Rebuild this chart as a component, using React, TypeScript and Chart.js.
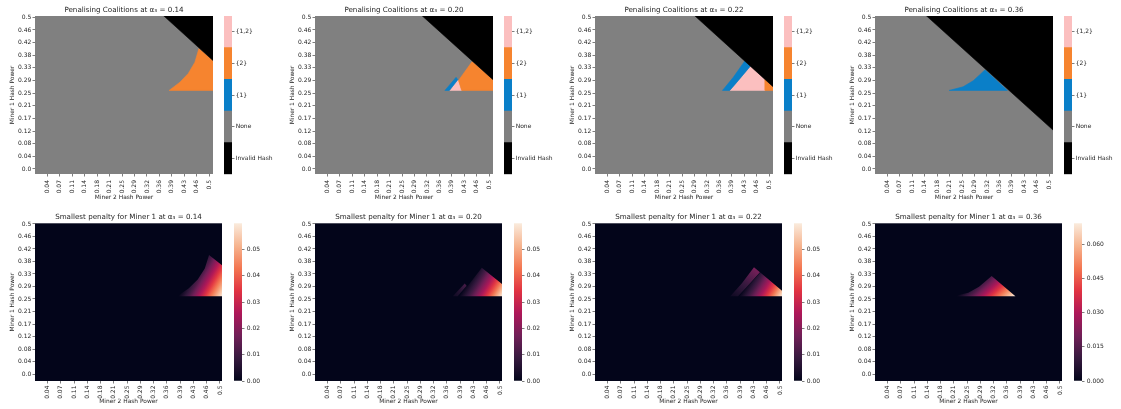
import React, { useEffect, useRef } from 'react';
import { Chart, registerables } from 'chart.js';

Chart.register(...registerables);

type Pt = [number, number];

// ---------------- data ----------------
const alphaLabels = ['0.14', '0.20', '0.22', '0.36'];
const xTickLabels = ['0.04', '0.07', '0.11', '0.14', '0.18', '0.21', '0.25', '0.29', '0.32', '0.36', '0.39', '0.43', '0.46', '0.5'];
const yTickLabels = ['0.0', '0.04', '0.08', '0.12', '0.17', '0.21', '0.25', '0.29', '0.33', '0.38', '0.42', '0.46', '0.5'];
const coalitionLabels = ['Invalid Hash', 'None', '{1}', '{2}', '{1,2}'];

// Penalising coalitions: outlines (Miner 2 hash power, Miner 1 hash power); everything else is "None"
const invalidHash: Pt[][] = [
  [[0.355, 0.52], [0.52, 0.52], [0.52, 0.348]],
  [[0.293, 0.52], [0.52, 0.52], [0.52, 0.285]],
  [[0.272, 0.52], [0.52, 0.52], [0.52, 0.262]],
  [[0.133, 0.52], [0.52, 0.52], [0.52, 0.119]],
];
const coalition1: Pt[][] = [
  [],
  [[0.373, 0.259], [0.405, 0.302], [0.410, 0.294], [0.386, 0.259]],
  [[0.366, 0.259], [0.397, 0.302], [0.430, 0.356], [0.446, 0.339], [0.411, 0.291], [0.387, 0.259]],
  [[0.213, 0.259], [0.253, 0.271], [0.282, 0.291], [0.301, 0.311], [0.316, 0.327], [0.380, 0.259]],
];
const coalition2: Pt[][] = [
  [[0.385, 0.259], [0.416, 0.286], [0.440, 0.315], [0.459, 0.352], [0.4705, 0.397], [0.52, 0.348], [0.52, 0.259]],
  [[0.421, 0.259], [0.412, 0.292], [0.451, 0.354], [0.52, 0.285], [0.52, 0.259]],
  [[0.4876, 0.259], [0.4876, 0.296], [0.52, 0.262], [0.52, 0.259]],
  [],
];
const coalition12: Pt[][] = [
  [],
  [[0.386, 0.259], [0.409, 0.293], [0.412, 0.292], [0.421, 0.259]],
  [[0.387, 0.259], [0.411, 0.291], [0.446, 0.339], [0.4876, 0.296], [0.4876, 0.259]],
  [],
];

// Smallest penalty: shaded regions, each with a gradient axis (from -> to) and penalty values sampled evenly along it
const penaltyOutlines: Pt[][][] = [
  [[[0.385, 0.259], [0.416, 0.286], [0.440, 0.315], [0.459, 0.352], [0.4705, 0.397], [0.52, 0.348], [0.52, 0.259]]],
  [
    [[0.373, 0.259], [0.405, 0.302], [0.410, 0.294], [0.386, 0.259]],
    [[0.387, 0.259], [0.409, 0.293], [0.412, 0.292], [0.451, 0.354], [0.52, 0.285], [0.52, 0.259]],
  ],
  [
    [[0.366, 0.259], [0.397, 0.302], [0.430, 0.356], [0.446, 0.339], [0.411, 0.291], [0.387, 0.259]],
    [[0.389, 0.259], [0.412, 0.291], [0.447, 0.338], [0.52, 0.262], [0.52, 0.259]],
  ],
  [[[0.213, 0.259], [0.253, 0.271], [0.282, 0.291], [0.301, 0.311], [0.316, 0.327], [0.380, 0.259]]],
];
const penaltyFrom: Pt[][] = [
  [[0.388, 0.26]],
  [[0.372, 0.26], [0.39, 0.26]],
  [[0.368, 0.26], [0.39, 0.26]],
  [[0.222, 0.26]],
];
const penaltyTo: Pt[][] = [
  [[0.476, 0.197]],
  [[0.41, 0.30], [0.473, 0.196]],
  [[0.43, 0.355], [0.473, 0.196]],
  [[0.2916, 0.1635]],
];
const penaltyValues: number[][][] = [
  [[0, 0.012, 0.027, 0.043, 0.059]],
  [[0.002, 0.006, 0.012], [0, 0.011, 0.025, 0.041, 0.059]],
  [[0.002, 0.009, 0.018], [0, 0.011, 0.025, 0.041, 0.059]],
  [[0, 0.015, 0.033, 0.051, 0.069]],
];
const penaltyMax = [0.0599, 0.0599, 0.0599, 0.0692];
const penaltyTickLabels = [
  ['0.00', '0.01', '0.02', '0.03', '0.04', '0.05'],
  ['0.00', '0.01', '0.02', '0.03', '0.04', '0.05'],
  ['0.00', '0.01', '0.02', '0.03', '0.04', '0.05'],
  ['0.000', '0.015', '0.030', '0.045', '0.060'],
];

// ---------------- style ----------------
const FONT = "'DejaVu Sans', sans-serif";
const INK = '#262626';
const coalitionColors = ['#000000', '#808080', '#0a7fc8', '#f6842f', '#fbbfbf'];
const rocket = ['#03051a', '#35193e', '#701f57', '#ad1759', '#e13342', '#f37651', '#f6b48f', '#faebdd'];
const PANEL_STEP = 280;

const rowTop = {
  top: 0, width: 222, height: 205, right: 9, xMin: 0, xMax: 0.511, yMin: -0.0165, yMax: 0.5043,
  xAxisH: 31, xTickPad: 3.5, xTitlePad: 3.96, titlePadTop: 5.71, titlePadBottom: 1.71, bg: '#808080',
};
const rowBottom = {
  top: 200, width: 231, height: 209, right: 9, xMin: 0.002, xMax: 0.5054, yMin: -0.0233, yMax: 0.5023,
  xAxisH: 28, xTickPad: 2, xTitlePad: 3.76, titlePadTop: 13.01, titlePadBottom: 1.71, bg: rocket[0],
};
const cbTop = { left: 224, top: 0, width: 56, height: 205, padTop: 16, padBottom: 30.7, bar: 8, tickPad: 1.2 };
const cbBottom = { left: 234, top: 200, width: 64, height: 209, padTop: 23.3, padBottom: 28, bar: 8, tickPad: 2.2 };

function hexRgb(h: string) {
  const n = parseInt(h.slice(1), 16);
  return [(n >> 16) & 255, (n >> 8) & 255, n & 255];
}
function rocketColor(t: number) {
  const c = Math.max(0, Math.min(1, t));
  const p = c * (rocket.length - 1);
  const i = Math.min(Math.floor(p), rocket.length - 2);
  const f = p - i;
  const a = hexRgb(rocket[i]);
  const b = hexRgb(rocket[i + 1]);
  const m = a.map((v, k) => Math.round(v + (b[k] - v) * f));
  return `rgb(${m[0]},${m[1]},${m[2]})`;
}
function sampleValues(vals: number[], s: number) {
  const p = s * (vals.length - 1);
  const i = Math.min(Math.floor(p), vals.length - 2);
  const f = p - i;
  return vals[i] + (vals[i + 1] - vals[i]) * f;
}

const plotBg = {
  id: 'plotBg',
  beforeDraw(chart: any, _a: any, opts: any) {
    const { ctx, chartArea: a } = chart;
    if (!a) return;
    ctx.save();
    ctx.fillStyle = opts.color;
    ctx.fillRect(a.left, a.top, a.right - a.left, a.bottom - a.top);
    ctx.restore();
  },
};

function closed(points: Pt[]) {
  return points.concat([points[0]]).map(([x, y]) => ({ x, y }));
}

function tickGrid() {
  return { display: true, drawOnChartArea: false, drawTicks: true, tickLength: 2.5, tickWidth: 0.6, tickColor: INK };
}

function heatAxes(row: typeof rowTop) {
  return {
    x: {
      type: 'linear', min: row.xMin, max: row.xMax,
      afterBuildTicks: (s: any) => { s.ticks = xTickLabels.map((_, i) => ({ value: (0.5 * (i + 1)) / xTickLabels.length })); },
      afterFit: (s: any) => { s.height = row.xAxisH; },
      ticks: {
        autoSkip: false, minRotation: 90, maxRotation: 90, padding: row.xTickPad, color: INK,
        font: { family: FONT, size: 6 }, callback: (_v: any, i: number) => xTickLabels[i],
      },
      grid: tickGrid(),
      border: { display: false },
      title: { display: true, text: 'Miner 2 Hash Power', color: INK, font: { family: FONT, size: 5.9 }, padding: { top: 0, bottom: row.xTitlePad } },
    },
    y: {
      type: 'linear', min: row.yMin, max: row.yMax,
      afterBuildTicks: (s: any) => { s.ticks = yTickLabels.map((_, i) => ({ value: (0.5 * i) / (yTickLabels.length - 1) })); },
      afterFit: (s: any) => { s.width = 35; },
      ticks: { autoSkip: false, padding: 1.2, color: INK, font: { family: FONT, size: 6 }, callback: (_v: any, i: number) => yTickLabels[i] },
      grid: tickGrid(),
      border: { display: false },
      title: { display: true, text: 'Miner 1 Hash Power', color: INK, font: { family: FONT, size: 5.9 }, padding: { top: 8.7, bottom: 0 } },
    },
  };
}

function heatOptions(row: typeof rowTop, title: string) {
  return {
    responsive: false, animation: false, devicePixelRatio: 1,
    layout: { padding: { left: 0, top: 0, right: row.right, bottom: 0 } },
    plugins: {
      legend: { display: false }, tooltip: { enabled: false },
      plotBg: { color: row.bg },
      title: {
        display: true, text: title, color: INK, fullSize: false,
        font: { family: FONT, size: 7.15, weight: 'normal' },
        padding: { top: row.titlePadTop, bottom: row.titlePadBottom },
      },
    },
    scales: heatAxes(row),
  };
}

function coalitionConfig(i: number): any {
  const layers: [Pt[], string][] = [
    [invalidHash[i], coalitionColors[0]],
    [coalition1[i], coalitionColors[2]],
    [coalition2[i], coalitionColors[3]],
    [coalition12[i], coalitionColors[4]],
  ];
  const datasets = layers.filter(([p]) => p.length > 0).map(([p, color]) => ({
    data: closed(p), borderColor: color, backgroundColor: color, borderWidth: 0.6,
    pointRadius: 0, pointHoverRadius: 0, fill: 'shape', tension: 0,
  }));
  return {
    type: 'line',
    data: { datasets },
    options: heatOptions(rowTop, `Penalising Coalitions at α₃ = ${alphaLabels[i]}`),
    plugins: [plotBg],
  };
}

function penaltyConfig(i: number): any {
  const vmax = penaltyMax[i];
  const datasets = penaltyOutlines[i].map((outline, r) => ({
    data: closed(outline),
    borderWidth: 0, pointRadius: 0, pointHoverRadius: 0, fill: 'shape', tension: 0,
    borderColor: 'rgba(0,0,0,0)',
    backgroundColor: (c: any) => {
      const ch = c.chart;
      if (!ch.chartArea || !ch.scales.x || !ch.scales.y) return rocket[0];
      const xs = ch.scales.x, ys = ch.scales.y;
      const from = penaltyFrom[i][r], to = penaltyTo[i][r];
      const g = ch.ctx.createLinearGradient(
        xs.getPixelForValue(from[0]), ys.getPixelForValue(from[1]),
        xs.getPixelForValue(to[0]), ys.getPixelForValue(to[1]),
      );
      const n = 24;
      for (let k = 0; k <= n; k++) {
        const s = k / n;
        g.addColorStop(s, rocketColor(sampleValues(penaltyValues[i][r], s) / vmax));
      }
      return g;
    },
  }));
  return {
    type: 'line',
    data: { datasets },
    options: heatOptions(rowBottom, `Smallest penalty for Miner 1 at α₃ = ${alphaLabels[i]}`),
    plugins: [plotBg],
  };
}

function colorbarAxis(cb: typeof cbTop, extra: any) {
  return {
    position: 'right',
    afterFit: (s: any) => { s.width = cb.width - cb.bar; },
    grid: tickGrid(),
    border: { display: false },
    ...extra,
    ticks: { autoSkip: false, padding: cb.tickPad, color: INK, font: { family: FONT, size: 6 }, ...extra.ticks },
  };
}

function coalitionBarConfig(): any {
  return {
    type: 'bar',
    data: {
      labels: ['coalition'],
      datasets: coalitionLabels.map((l, k) => ({
        label: l, data: [1], backgroundColor: coalitionColors[k], borderWidth: 0,
        barPercentage: 1, categoryPercentage: 1,
      })),
    },
    options: {
      responsive: false, animation: false, devicePixelRatio: 1,
      layout: { padding: { left: 0, right: 0, top: cbTop.padTop, bottom: cbTop.padBottom } },
      plugins: { legend: { display: false }, tooltip: { enabled: false }, title: { display: false } },
      scales: {
        x: { display: false, stacked: true },
        y: colorbarAxis(cbTop, {
          stacked: true, min: 0, max: coalitionLabels.length,
          afterBuildTicks: (s: any) => { s.ticks = coalitionLabels.map((_, k) => ({ value: k + 0.5 })); },
          ticks: { callback: (_v: any, k: number) => coalitionLabels[k] },
        }),
      },
    },
  };
}

function penaltyBarConfig(i: number): any {
  const labels = penaltyTickLabels[i];
  return {
    type: 'bar',
    data: {
      labels: ['penalty'],
      datasets: [{
        data: [penaltyMax[i]], borderWidth: 0, barPercentage: 1, categoryPercentage: 1,
        backgroundColor: (c: any) => {
          const a = c.chart.chartArea;
          if (!a) return rocket[0];
          const g = c.chart.ctx.createLinearGradient(0, a.bottom, 0, a.top);
          rocket.forEach((col, k) => g.addColorStop(k / (rocket.length - 1), col));
          return g;
        },
      }],
    },
    options: {
      responsive: false, animation: false, devicePixelRatio: 1,
      layout: { padding: { left: 0, right: 0, top: cbBottom.padTop, bottom: cbBottom.padBottom } },
      plugins: { legend: { display: false }, tooltip: { enabled: false }, title: { display: false } },
      scales: {
        x: { display: false },
        y: colorbarAxis(cbBottom, {
          min: 0, max: penaltyMax[i],
          afterBuildTicks: (s: any) => { s.ticks = labels.map((t) => ({ value: parseFloat(t) })); },
          ticks: { callback: (_v: any, k: number) => labels[k] },
        }),
      },
    },
  };
}

function ChartCanvas(props: { left: number; top: number; width: number; height: number; make: () => any }) {
  const ref = useRef<HTMLCanvasElement>(null);
  useEffect(() => {
    const chart = new Chart(ref.current as HTMLCanvasElement, props.make());
    return () => chart.destroy();
  }, []);
  return (
    <canvas
      ref={ref}
      width={props.width}
      height={props.height}
      style={{ position: 'absolute', left: props.left, top: props.top, width: props.width, height: props.height }}
    />
  );
}

export default function App() {
  return (
    <div style={{ position: 'absolute', left: 0, top: 0, width: 1121, height: 409, background: '#ffffff', overflow: 'hidden' }}>
      {alphaLabels.map((_, i) => {
        const off = i * PANEL_STEP;
        return (
          <React.Fragment key={i}>
            <ChartCanvas left={off} top={rowTop.top} width={rowTop.width} height={rowTop.height} make={() => coalitionConfig(i)} />
            <ChartCanvas left={off + cbTop.left} top={cbTop.top} width={cbTop.width} height={cbTop.height} make={() => coalitionBarConfig()} />
            <ChartCanvas left={off} top={rowBottom.top} width={rowBottom.width} height={rowBottom.height} make={() => penaltyConfig(i)} />
            <ChartCanvas left={off + cbBottom.left} top={cbBottom.top} width={cbBottom.width} height={cbBottom.height} make={() => penaltyBarConfig(i)} />
          </React.Fragment>
        );
      })}
    </div>
  );
}
